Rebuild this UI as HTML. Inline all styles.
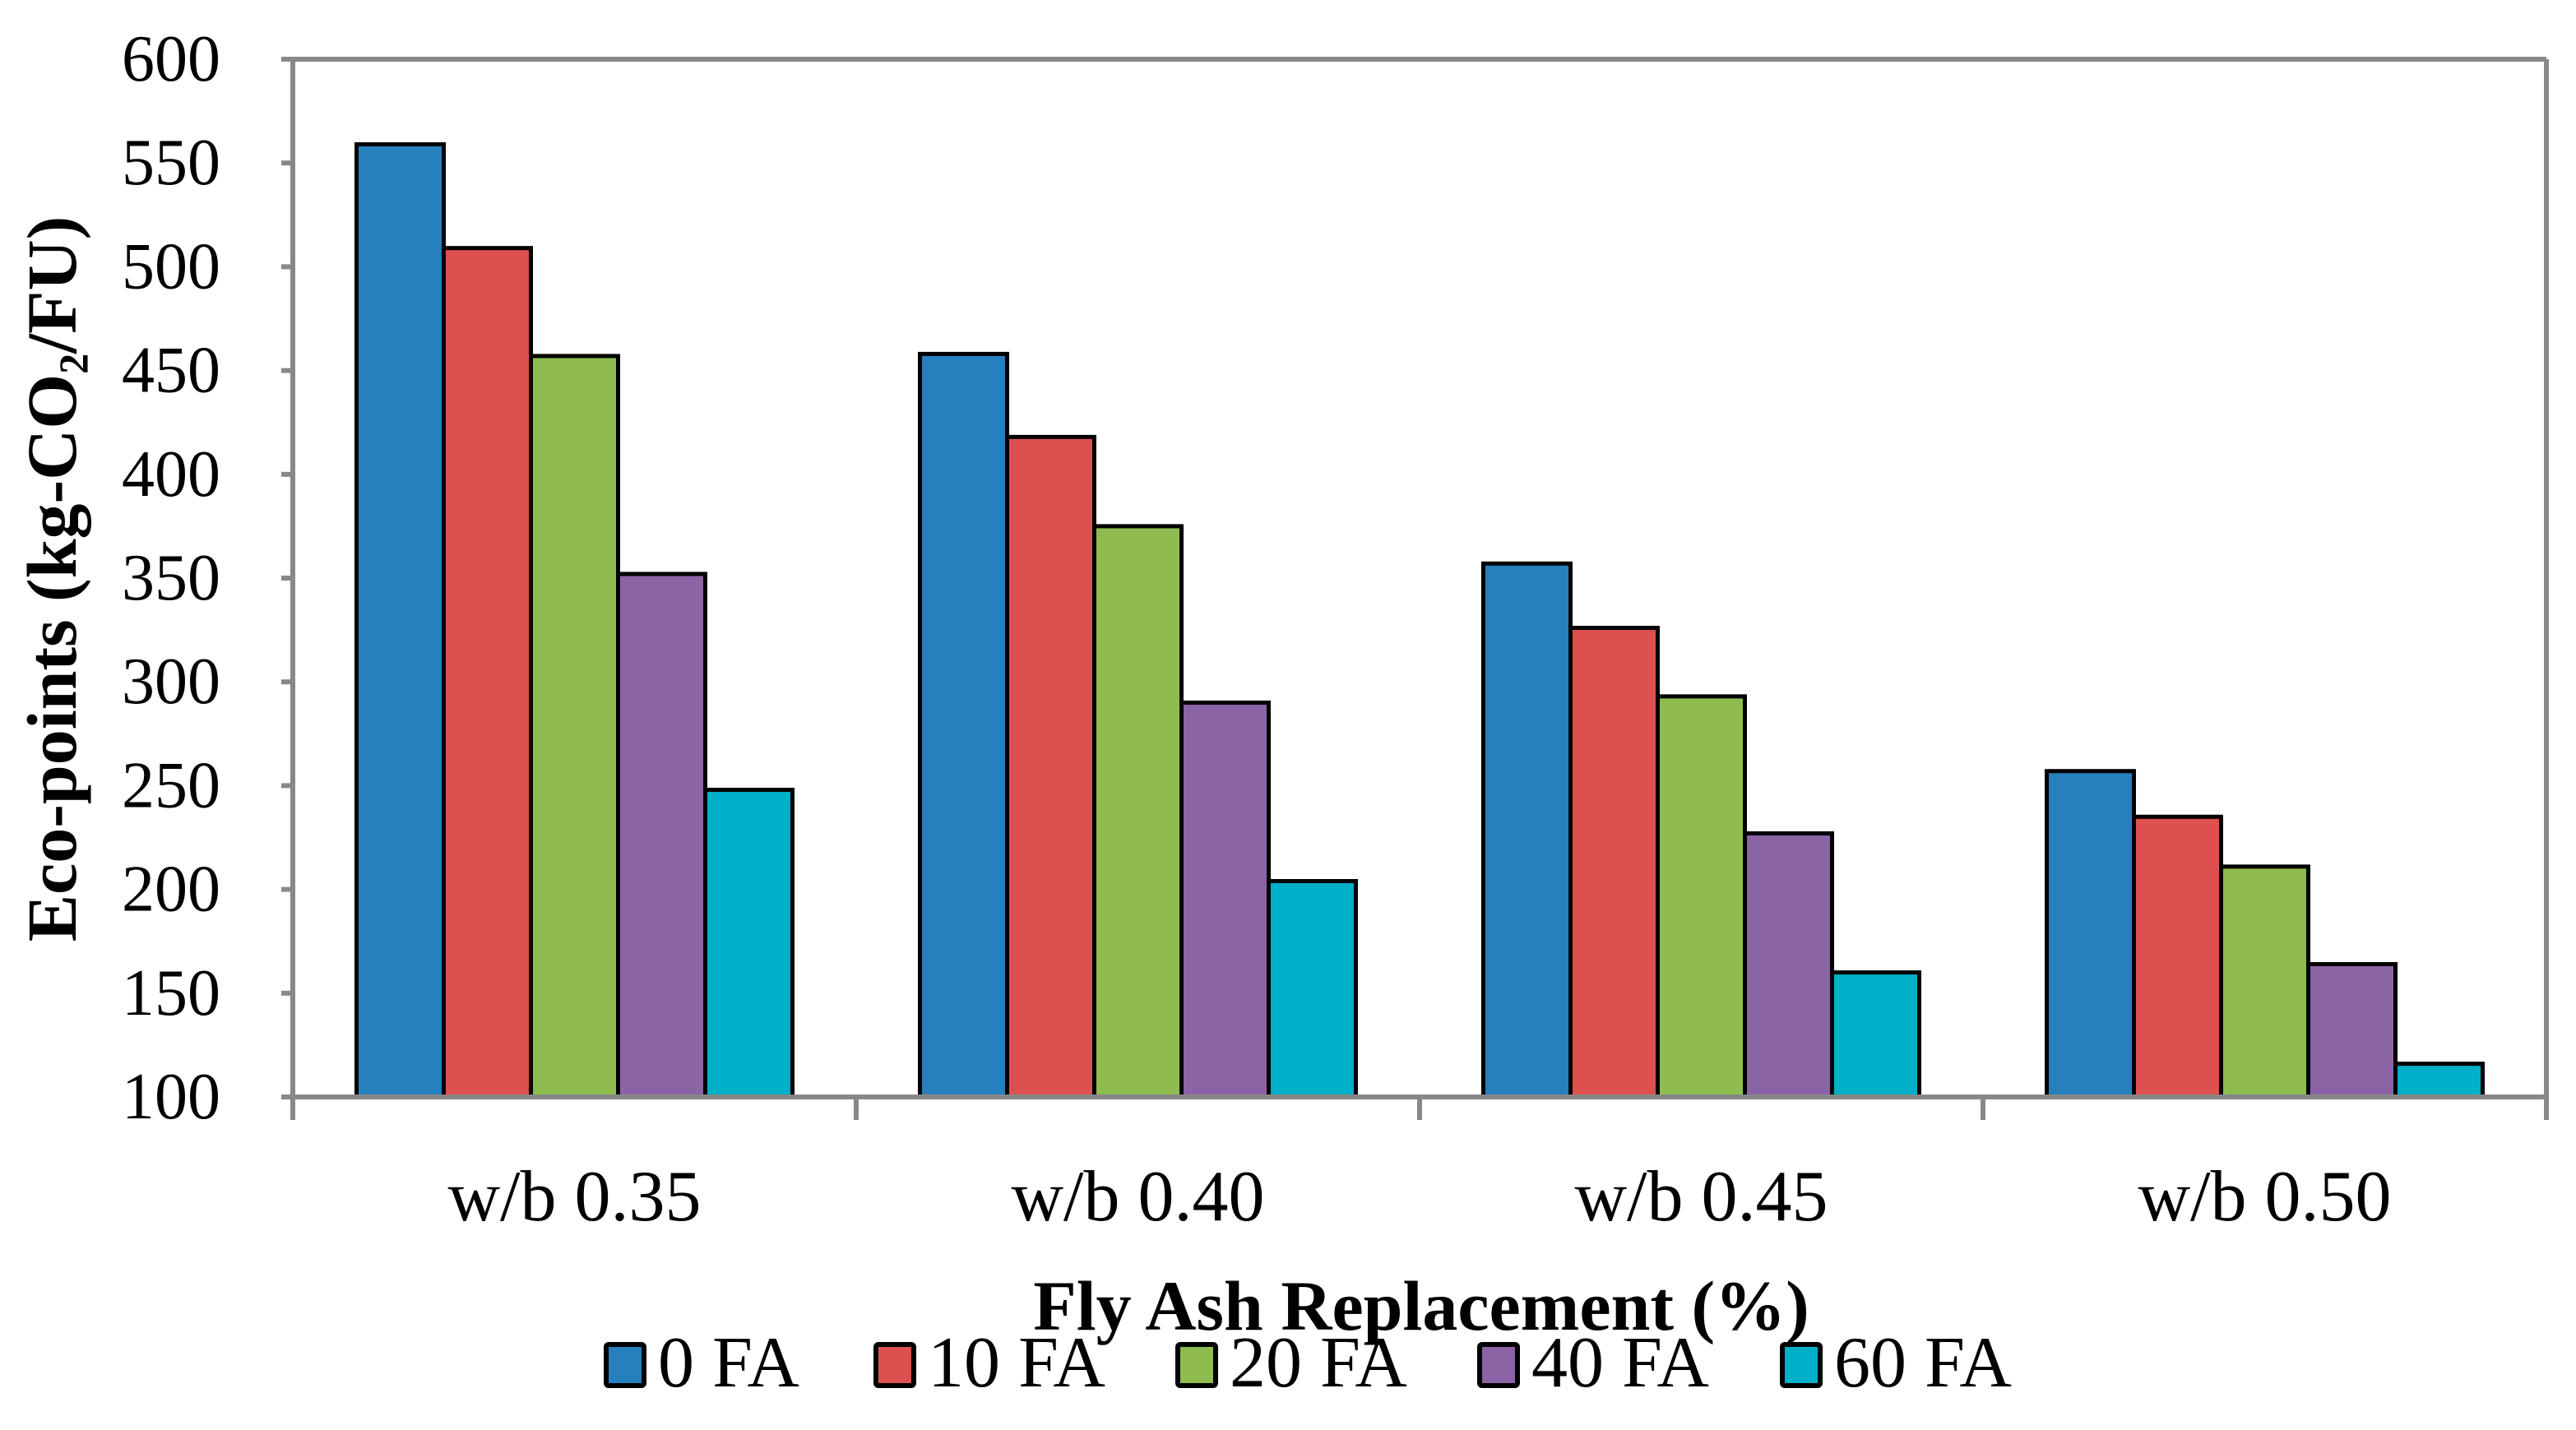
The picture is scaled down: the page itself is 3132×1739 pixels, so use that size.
<!DOCTYPE html>
<html><head><meta charset="utf-8">
<style>
html,body{margin:0;padding:0;background:#fff;}
svg{display:block;}
text{font-family:"Liberation Serif",serif;fill:#000;}
</style></head>
<body>
<svg id="chart" width="3132" height="1739" viewBox="0 0 3132 1739" xmlns="http://www.w3.org/2000/svg">
<rect x="0" y="0" width="3132" height="1739" fill="#fff"/>
<g id="bars"></g>
<g id="axes"></g>
<text transform="translate(92,704) rotate(-90)" text-anchor="middle" font-size="86" font-weight="bold">Eco-points (kg-CO<tspan font-size="50" dy="14">2</tspan><tspan dy="-14">/FU)</tspan></text>
<text x="1728" y="1617" text-anchor="middle" font-size="86" font-weight="bold">Fly Ash Replacement (%)</text>
<g id="legend"></g>
</svg>
<script>
const categories = ["w/b 0.35","w/b 0.40","w/b 0.45","w/b 0.50"];
const seriesNames = ["0 FA","10 FA","20 FA","40 FA","60 FA"];
const s0 = [559,458,357,257];
const s10 = [509,418,326,235];
const s20 = [457,375,293,211];
const s40 = [352,290,227,164];
const s60 = [248,204,160,116];
const yTicks = [100,150,200,250,300,350,400,450,500,550,600];

const series = [s0,s10,s20,s40,s60];
const colors = ["#2680BE","#DE5050","#8EBC4F","#8A64A4","#00AFC8"];
const NS = "http://www.w3.org/2000/svg";
const L=356, R=3096, T=72, B=1334, yMin=100, yMax=600;
const gw=(R-L)/categories.length, bw=106, gap=(gw-5*bw)/2;
function y(v){return B-(v-yMin)/(yMax-yMin)*(B-T);}
function x(ci,si){return L+ci*gw+gap+si*bw;}
function mk(tag,attrs,parent){const e=document.createElementNS(NS,tag);for(const k in attrs)e.setAttribute(k,attrs[k]);parent.appendChild(e);return e;}

const bars=document.getElementById('bars');
series.forEach((s,si)=>{s.forEach((v,ci)=>{
  const r=mk('rect',{x:x(ci,si),y:y(v),width:bw,height:B-y(v),fill:colors[si],stroke:'#000','stroke-width':5},bars);
  
  
});});

const axes=document.getElementById('axes');
const g='#888';
mk('line',{x1:L,y1:T,x2:R,y2:T,stroke:g,'stroke-width':6},axes);
mk('line',{x1:R,y1:T,x2:R,y2:B,stroke:g,'stroke-width':6},axes);
mk('line',{x1:L,y1:T-3,x2:L,y2:B+28,stroke:g,'stroke-width':6},axes);
mk('line',{x1:L-14,y1:B,x2:R+3,y2:B,stroke:g,'stroke-width':6},axes);
yTicks.forEach(t=>{
  mk('line',{x1:L-14,y1:y(t),x2:L,y2:y(t),stroke:g,'stroke-width':6},axes);
  const tx=mk('text',{x:268,y:y(t)+26,'text-anchor':'end','font-size':80},axes);
  tx.textContent=t;
  
  
});
for(let i=0;i<=categories.length;i++){
  mk('line',{x1:L+i*gw,y1:B,x2:L+i*gw,y2:B+28,stroke:g,'stroke-width':6},axes);
}
categories.forEach((c,i)=>{
  const tx=mk('text',{x:L+(i+0.5)*gw,y:1484,'text-anchor':'middle','font-size':88},axes);
  tx.textContent=c;
  
  
});

const legend=document.getElementById('legend');
const lx=[734,1062,1429,1796,2164];
seriesNames.forEach((n,i)=>{
  const sw=mk('rect',{x:lx[i]+3,y:1635,width:46,height:50,fill:colors[i],stroke:'#000','stroke-width':6,rx:3},legend);
  
  
  const tx=mk('text',{x:lx[i]+66,y:1686,'font-size':88},legend);
  tx.textContent=n;
  
  
});
</script>
</body></html>
